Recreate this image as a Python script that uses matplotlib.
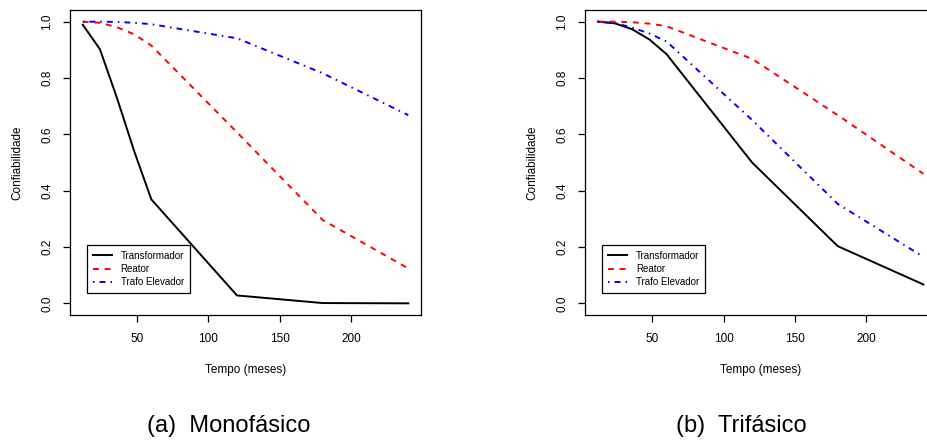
import matplotlib
matplotlib.use("Agg")
import matplotlib.pyplot as plt

plt.rcParams['font.family'] = ['Liberation Sans', 'DejaVu Sans']

# tempo em meses
meses = [12, 24, 36, 48, 60, 120, 180, 240]

# confiabilidade - monofasico
mono_transformador = [0.989, 0.902, 0.728, 0.540, 0.369, 0.028, 0.001, 0.000]
mono_reator = [1.000, 0.996, 0.980, 0.955, 0.915, 0.607, 0.296, 0.124]
mono_trafo_elev = [1.000, 1.000, 0.999, 0.996, 0.991, 0.941, 0.817, 0.668]

# confiabilidade - trifasico
tri_transformador = [1.000, 0.994, 0.973, 0.937, 0.885, 0.500, 0.203, 0.067]
tri_reator = [1.000, 1.000, 0.998, 0.993, 0.984, 0.868, 0.668, 0.460]
tri_trafo_elev = [1.000, 0.995, 0.979, 0.958, 0.930, 0.651, 0.353, 0.165]

nomes = ['Transformador', 'Reator', 'Trafo Elevador']
legendas = ['(a)  Monofásico', '(b)  Trifásico']

W, H = 927, 441
fig = plt.figure(figsize=(W / 100, H / 100), dpi=100)

paineis = [
    (69.8, [mono_transformador, mono_reator, mono_trafo_elev]),
    (584.9, [tri_transformador, tri_reator, tri_trafo_elev]),
]

for i, (x0, series) in enumerate(paineis):
    ax = fig.add_axes([x0 / W, (H - 314.6) / H, 351.5 / W, 304.2 / H])
    estilos = [dict(color='black', linestyle='-'),
               dict(color='red', dashes=(3, 3)),
               dict(color='blue', dashes=(0.8, 2.6, 3, 2.6))]
    for y, nome, st in zip(series, nomes, estilos):
        ax.plot(meses, y, lw=1.4, label=nome, **st)

    ax.set_xlim(2.88, 249.12)
    ax.set_ylim(-0.04, 1.04)
    ax.set_xticks([50, 100, 150, 200])
    ax.set_yticks([0.0, 0.2, 0.4, 0.6, 0.8, 1.0])
    ax.set_yticklabels(['0.0', '0.2', '0.4', '0.6', '0.8', '1.0'],
                       rotation=90, va='center')
    ax.tick_params(direction='out', length=5, width=0.9, labelsize=8.5)
    ax.tick_params(axis='x', pad=8.5)
    ax.tick_params(axis='y', pad=7)
    for sp in ax.spines.values():
        sp.set_linewidth(0.9)

    ax.set_xlabel('Tempo (meses)', fontsize=8.5)
    ax.set_ylabel('Confiabilidade', fontsize=8.5)
    ax.xaxis.set_label_coords(0.5, -0.162)
    ax.yaxis.set_label_coords(-0.132, 0.5)

    leg = ax.legend(loc='lower left', bbox_to_anchor=(0.048, 0.07),
                    borderaxespad=0, fontsize=7, handlelength=2.0,
                    handletextpad=0.9, borderpad=0.6, labelspacing=0.35,
                    fancybox=False, framealpha=1)
    leg.get_frame().set_edgecolor('black')
    leg.get_frame().set_linewidth(0.9)

fig.text(229 / W, 1 - 426 / H, legendas[0], fontsize=17, ha='center', va='center')
fig.text(741 / W, 1 - 426 / H, legendas[1], fontsize=17, ha='center', va='center')

fig.savefig('out.png', dpi=100)
